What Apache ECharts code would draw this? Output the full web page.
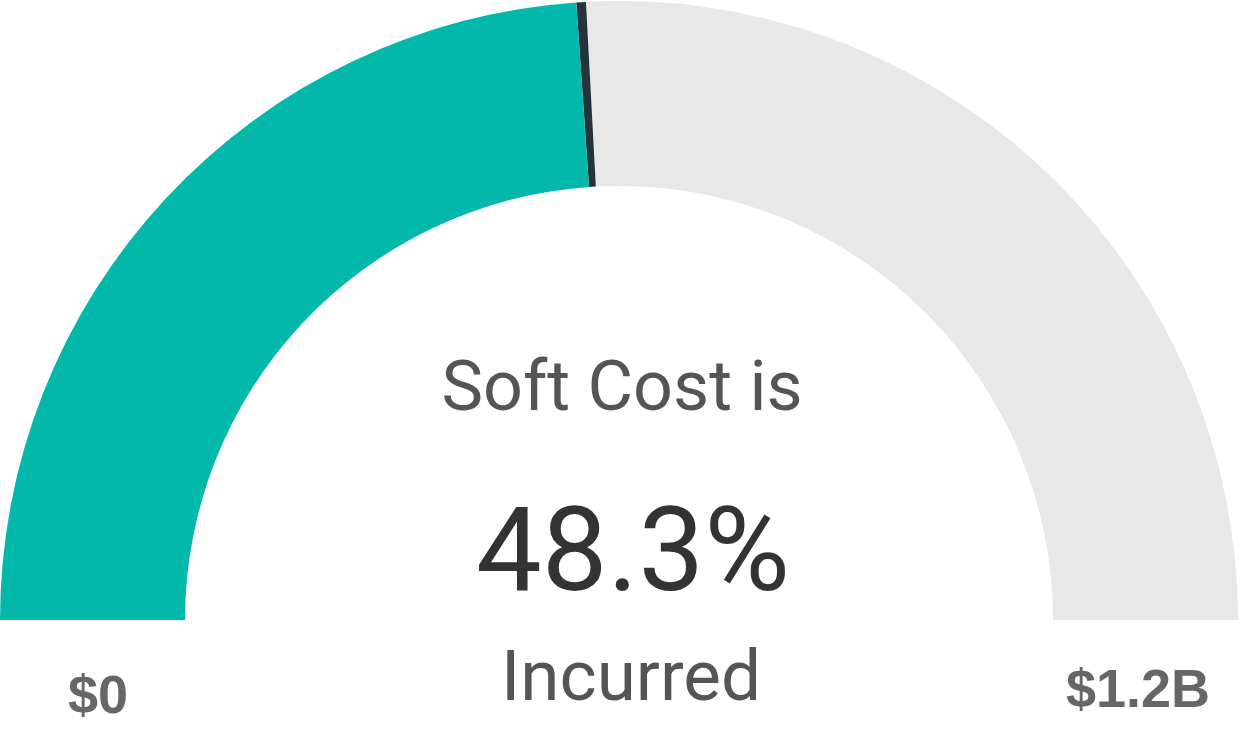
<!DOCTYPE html>
<html>
<head>
<meta charset="utf-8">
<script src="https://cdn.jsdelivr.net/npm/echarts@6/dist/echarts.min.js"></script>
<style>
  html, body { margin: 0; padding: 0; background: #fff; }
  #gauge { width: 1244px; height: 730px; }
</style>
</head>
<body>
<div id="gauge"></div>
<script>
// data
const gaugeValue = [48.3];          // percent of soft cost incurred
const axisRange = [0, 100];
const rangeLabels = ['$0', '$1.2B'];
const captionTop = 'Soft Cost is';
const captionBottom = 'Incurred';

const chart = echarts.init(document.getElementById('gauge'));

const frac = (gaugeValue[0] - axisRange[0]) / (axisRange[1] - axisRange[0]);
const markW = 0.005;

chart.setOption({
  animation: false,
  series: [{
    type: 'gauge',
    center: [619, 620],
    radius: 619,
    startAngle: 180,
    endAngle: 0,
    min: axisRange[0],
    max: axisRange[1],
    axisLine: {
      lineStyle: {
        width: 185,
        color: [
          [frac - markW, '#01b8aa'],
          [frac, '#26333b'],
          [1, '#e8e8e8']
        ]
      }
    },
    pointer: { show: false },
    axisTick: { show: false },
    splitLine: { show: false },
    axisLabel: { show: false },
    title: { show: false },
    detail: {
      offsetCenter: [14, -59],
      fontFamily: 'Roboto',
      fontSize: 117,
      fontWeight: 'normal',
      color: '#333333',
      formatter: v => v.toFixed(1) + '%'
    },
    data: [{ value: gaugeValue[0] }]
  }],
  graphic: [
    {
      type: 'text', x: 622, y: 392,
      style: { text: captionTop, font: '70px Roboto', fill: '#555555', align: 'center', verticalAlign: 'middle' }
    },
    {
      type: 'text', x: 631, y: 682,
      style: { text: captionBottom, font: '71px Roboto', fill: '#555555', align: 'center', verticalAlign: 'middle' }
    },
    {
      type: 'text', x: 98, y: 698,
      style: { text: rangeLabels[0], font: 'bold 54px "Liberation Sans"', fill: '#666666', align: 'center', verticalAlign: 'middle' }
    },
    {
      type: 'text', x: 1138, y: 692,
      style: { text: rangeLabels[1], font: 'bold 54px "Liberation Sans"', fill: '#666666', align: 'center', verticalAlign: 'middle' }
    }
  ]
});
</script>
</body>
</html>
